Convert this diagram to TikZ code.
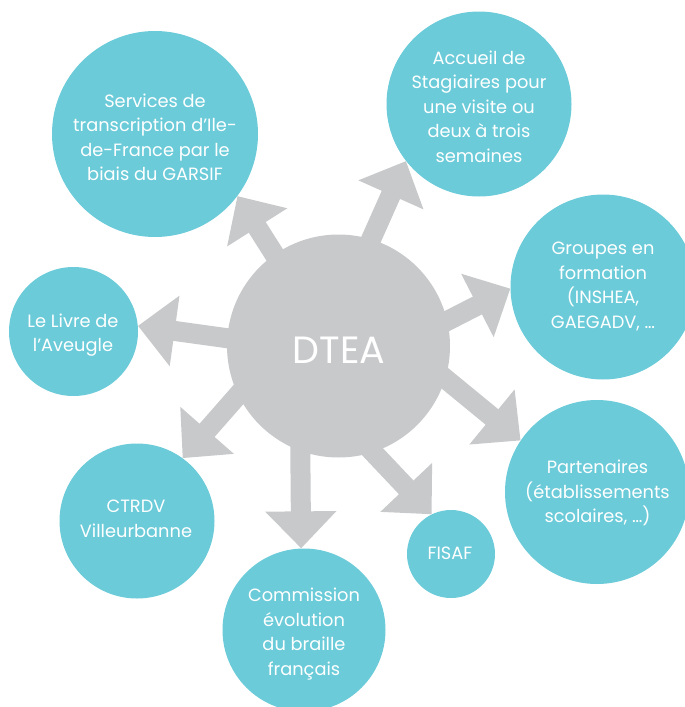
\documentclass[tikz,border=0pt]{standalone}
\usepackage{fontspec}
\setmainfont{Poppins}
\usetikzlibrary{arrows.meta}
\definecolor{bubcol}{HTML}{6BCBD9}
\definecolor{hubcol}{HTML}{C8C9CB}
\begin{document}
\begin{tikzpicture}[x=1pt,y=1pt,
  bub/.style={circle,fill=bubcol,inner sep=0pt},
  lbl/.style={text=white,align=center,inner sep=0pt,font=\fontsize{17.8}{24.5}\selectfont},
  arr/.style={draw=hubcol,line width=20pt,shorten <=-20pt,-{Triangle[width=69pt,length=37pt]}}]
\useasboundingbox (0,0) rectangle (685,-707);
\clip (0,0) rectangle (685,-707);
% circles
\node[bub,minimum size=206pt] (serv) at (155,-134) {};
\node[bub,minimum size=185pt] (acc) at (479,-104) {};
\node[bub,minimum size=185pt] (grp) at (603,-287) {};
\node[bub,minimum size=129pt] (livre) at (73.5,-331.5) {};
\node[bub,minimum size=155pt] (ctr) at (137,-521) {};
\node[bub,minimum size=163pt] (com) at (304,-630) {};
\node[bub,minimum size=88pt] (fisaf) at (451,-554) {};
\node[bub,minimum size=184pt] (part) at (597,-492) {};
\node[circle,fill=hubcol,inner sep=0pt,minimum size=223pt] (dtea) at (338.5,-346) {};
% arrows
\draw[arr] (dtea.125) -- (serv.-37);
\draw[arr] (dtea.73) -- (acc.218);
\draw[arr] (dtea.13) -- (grp.181);
\draw[arr] (dtea.-17.5) -- (part.146);
\draw[arr] (dtea.-72) -- (fisaf.116);
\draw[arr] (dtea.-110) -- (com.92);
\draw[arr] (dtea.206) -- (ctr.54);
\draw[arr] (dtea.176) -- (livre.5);
% texts
\node[text=white,inner sep=0pt,font=\fontsize{38}{44}\selectfont] (dteat) at (339,-350) {DTEA};
\node[lbl] (servt) at (155,-137.5) {Services de\\transcription d’Ile-\\de-France par le\\biais du GARSIF};
\node[lbl] (acct) at (479,-106.7) {Accueil de\\Stagiaires pour\\une visite ou\\deux à trois\\semaines};
\node[lbl] (grpt) at (603,-286.5) {Groupes en\\formation\\(INSHEA,\\GAEGADV, …};
\node[lbl] (livret) at (73,-335) {Le Livre de\\l’Aveugle};
\node[lbl] (ctrt) at (136,-519) {CTRDV\\Villeurbanne};
\node[lbl] (comt) at (304,-634) {Commission\\évolution\\du braille\\français};
\node[lbl] (fisaft) at (450,-553) {FISAF};
\node[lbl] (partt) at (597.5,-493) {Partenaires\\(établissements\\scolaires, …)};
\end{tikzpicture}
\end{document}
